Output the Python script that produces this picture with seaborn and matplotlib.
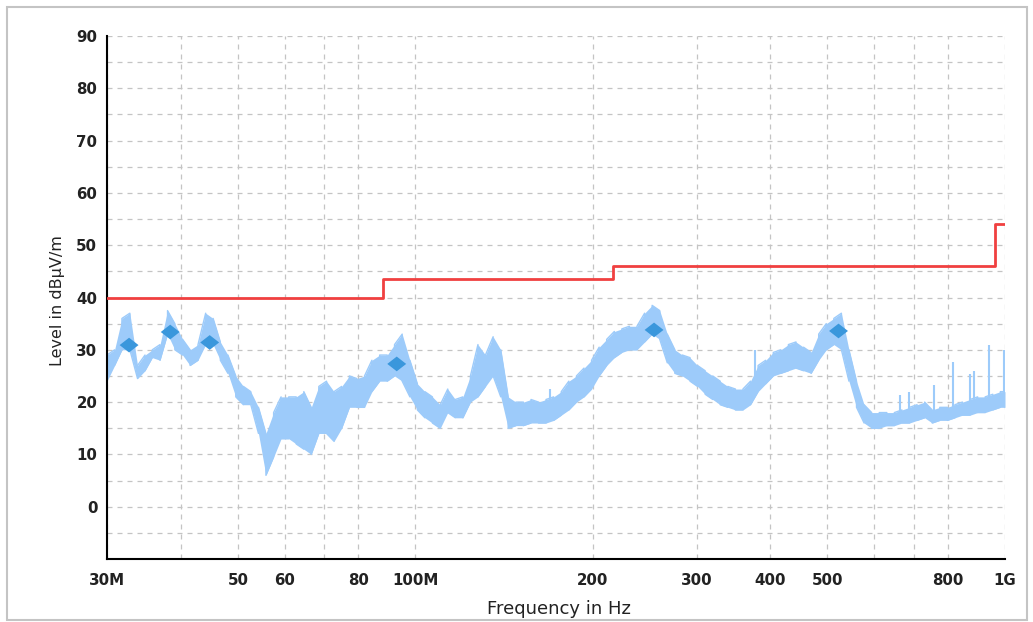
import matplotlib
matplotlib.use("Agg")
import matplotlib.pyplot as plt
import pandas as pd
import seaborn as sns
from matplotlib.path import Path
from matplotlib.patches import Rectangle

# Sweep bins (MHz) with the lowest / highest level seen in each bin (dBµV/m)
freq_mhz = [
    30.0, 30.9, 31.8, 32.8, 33.8, 34.8, 35.8, 36.9, 38.0, 39.1,
    40.3, 41.5, 42.8, 44.1, 45.4, 46.7, 48.1, 49.6, 51.1, 52.6,
    54.2, 55.8, 57.5, 59.2, 61.0, 62.8, 64.7, 66.6, 68.6, 70.7,
    72.8, 75.0, 77.3, 79.6, 82.0, 84.4, 87.0, 89.6, 92.2, 95.0,
    97.9, 100.8, 103.8, 106.9, 110.2, 113.5, 116.9, 120.4, 124.0, 127.7,
    131.5, 135.5, 139.6, 143.7, 148.1, 152.5, 157.1, 161.8, 166.6, 171.6,
    176.8, 182.1, 187.6, 193.2, 199.0, 205.0, 211.1, 217.5, 224.0, 230.7,
    237.6, 244.8, 252.1, 259.7, 267.5, 275.5, 283.7, 292.3, 301.0, 310.1,
    319.4, 328.9, 338.8, 349.0, 359.4, 370.2, 381.3, 392.8, 404.6, 416.7,
    429.2, 442.1, 455.3, 469.0, 483.1, 497.6, 512.5, 527.9, 543.7, 560.0,
    576.8, 594.1, 612.0, 630.3, 649.2, 668.7, 688.8, 709.4, 730.7, 752.6,
    775.2, 798.5, 822.4, 847.1, 872.5, 898.7, 925.6, 953.4, 982.0, 1000.0,
]
level_min = [
    24, 27, 30, 30, 24.5, 26, 28.5, 28, 33, 30,
    29, 27, 28, 31, 31, 28, 25.5, 21, 19.5, 19.5,
    14, 6, 9.5, 13, 13, 12, 11, 10, 14, 14,
    12.5, 15, 19, 19, 19, 22, 24, 24, 25, 24,
    21, 18.5, 17, 16, 15, 18, 17, 17, 20, 21,
    23, 25, 21, 15, 15.5, 15.5, 16, 16, 16, 16.5,
    17.5, 18.5, 20, 21, 22.5, 25, 27, 28.5, 29.5, 30,
    30, 31.5, 33, 32, 27.5, 25.5, 25, 24, 23, 21.5,
    20.5, 19.5, 19, 18.5, 18.5, 19.5, 22, 23.5, 25, 25.5,
    26, 26.5, 26, 25.5, 28, 30, 31, 30, 24, 19,
    16, 15, 15, 15.5, 15.5, 16, 16, 16.5, 17, 16,
    16.5, 16.5, 17, 17.5, 17.5, 18, 18, 18.5, 19, 19,
]
level_max = [
    29, 30, 36, 37, 27, 29, 30, 31, 37.5, 35,
    32, 30, 31, 37, 36, 31.5, 29, 25, 23, 22,
    19, 14, 18, 21, 21, 21, 22, 19, 23, 24,
    22, 23, 25, 24.5, 25, 28, 29, 29, 31, 33,
    28, 23.5, 22, 21, 19.5, 22.5, 20.5, 21, 25, 31,
    29, 32.5, 30, 21, 20, 20, 20.5, 20, 20.5, 21,
    22, 24, 25, 26.5, 28, 30.5, 32, 33.5, 34, 34.5,
    34.5, 37, 38.5, 37.5, 33, 30, 29, 28.5, 27, 26,
    25, 24, 23, 22.5, 22.5, 24, 27, 28, 29.5, 30,
    31, 31.5, 30.5, 29.5, 33, 35, 36, 37, 30, 24,
    19.5, 18, 18, 18, 18, 18.5, 19, 19.5, 20, 18.5,
    19, 19, 19.5, 20, 20.5, 21, 21, 21.5, 22, 22,
]

# Narrow spurs standing above the noise floor
spur_freq = [169, 377, 664, 687, 758, 816, 872, 885, 939, 998]
spur_base = [17, 22, 17, 17, 16.5, 17, 17.5, 18, 18.5, 19]
spur_peak = [22.6, 30, 21.3, 22, 23.2, 27.7, 25.4, 26, 31, 30]

# Final measurement points
peak_freq = [32.7, 38.4, 44.8, 93.0, 254, 522]
peak_level = [30.9, 33.4, 31.4, 27.3, 33.8, 33.6]

# Limit line (step function)
limit_freq = [30, 88, 216, 960, 1000]
limit_level = [40, 43.5, 46, 54, 54]

x_ticks = [30, 40, 50, 60, 70, 80, 100, 200, 300, 400, 500, 600, 700, 800, 1000]
x_tick_labels = ["30M", "", "50", "60", "", "80", "100M", "200", "300",
                 "400", "500", "", "", "800", "1G"]
y_ticks = [-10, -5, 0, 5, 10, 15, 20, 25, 30, 35, 40, 45, 50, 55, 60, 65,
           70, 75, 80, 85, 90]
y_tick_labels = ["", "", "0", "", "10", "", "20", "", "30", "", "40", "",
                 "50", "", "60", "", "70", "", "80", "", "90"]

TRACE = "#9dcbfa"
MARKER = "#3a97dc"
LIMIT = "#f04040"

sns.set_theme(style="white")
plt.rcParams["font.family"] = ["DejaVu Sans"]

fig = plt.figure(figsize=(10.33, 6.22), dpi=100)
ax = fig.add_axes([107 / 1033, 1 - 559 / 622, 898 / 1033, 523 / 622])

# Outer frame of the figure
fig.patches.append(Rectangle((7 / 1033, 2 / 622), 1020 / 1033, 613 / 622,
                             transform=fig.transFigure, fill=False,
                             edgecolor="#c4c4c4", lw=1.5))

# Measured trace: min/max envelope filled, outlined with a zig-zag
ax.fill_between(freq_mhz, level_min, level_max, color=TRACE, lw=0, zorder=2)
zx, zy = [], []
for i, (f, lo, hi) in enumerate(zip(freq_mhz, level_min, level_max)):
    zx += [f, f]
    zy += [lo, hi] if i % 2 == 0 else [hi, lo]
trace = pd.DataFrame({"freq": zx, "level": zy})
sns.lineplot(data=trace, x="freq", y="level", sort=False, estimator=None,
             color=TRACE, lw=1.0, ax=ax, zorder=2)
ax.vlines(spur_freq, spur_base, spur_peak, color=TRACE, lw=1.5, zorder=2)

# Limit line
sns.lineplot(x=limit_freq, y=limit_level, drawstyle="steps-post",
             color=LIMIT, lw=2, ax=ax, zorder=3)

# Final measurement markers (flattened diamonds)
diamond = Path([(-1, 0), (0, 0.78), (1, 0), (0, -0.78), (-1, 0)],
               [Path.MOVETO, Path.LINETO, Path.LINETO, Path.LINETO, Path.CLOSEPOLY])
sns.scatterplot(x=peak_freq, y=peak_level, marker=diamond, s=185,
                color=MARKER, edgecolor="none", ax=ax, zorder=4)

ax.set_xscale("log")
ax.set_xlim(30, 1000)
ax.set_ylim(-10, 90)
ax.minorticks_off()
ax.set_xticks(x_ticks, labels=x_tick_labels, fontweight="bold", fontsize=10.8,
              color="#222222")
ax.set_yticks(y_ticks, labels=y_tick_labels, fontweight="bold", fontsize=10.8,
              color="#222222")
ax.minorticks_off()
ax.tick_params(axis="both", which="major", direction="inout", length=8,
               width=1.2, color="black")
ax.tick_params(axis="x", pad=6)
ax.tick_params(axis="y", pad=3)

ax.grid(True, which="major", color="#c4c4c4", lw=0.9, linestyle=(0, (4, 4)))
ax.set_axisbelow(True)

for side in ("top", "right"):
    ax.spines[side].set_visible(False)
for side in ("left", "bottom"):
    ax.spines[side].set_color("black")
    ax.spines[side].set_linewidth(1.5)

ax.set_xlabel("Frequency in Hz", fontsize=13, color="#222222")
ax.set_ylabel("Level in dBµV/m", fontsize=11.5, color="#222222")
ax.xaxis.set_label_coords(0.503, -0.078)
ax.yaxis.set_label_coords(-0.047, 0.495)

fig.savefig("out.png", dpi=100, facecolor="white")
